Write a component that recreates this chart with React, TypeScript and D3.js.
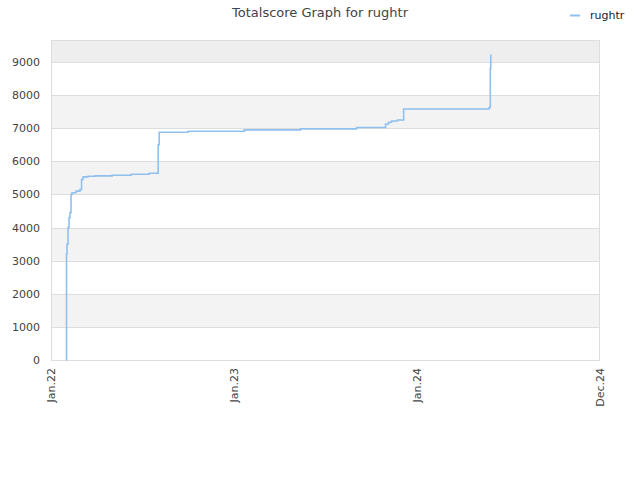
import React from "react";
import * as d3 from "d3";

const title = "Totalscore Graph for rughtr";
const seriesName = "rughtr";
const dates: string[] = [
  "2022-01-31", "2022-02-01", "2022-02-02", "2022-02-04", "2022-02-06", "2022-02-08",
  "2022-02-10", "2022-02-12", "2022-02-20", "2022-02-28", "2022-03-03", "2022-03-06",
  "2022-03-16", "2022-03-30", "2022-05-03", "2022-06-10", "2022-07-16", "2022-08-03",
  "2022-08-05", "2022-10-02", "2023-01-22", "2023-05-14", "2023-09-03", "2023-10-31",
  "2023-11-06", "2023-11-12", "2023-11-24", "2023-12-06", "2024-05-24", "2024-05-26",
  "2024-05-27", "2024-05-28",
];
const values: number[] = [
  0, 3200, 3500, 4000, 4300, 4450,
  5000, 5050, 5100, 5150, 5450, 5530,
  5550, 5560, 5580, 5610, 5640, 6500,
  6880, 6910, 6950, 6980, 7020, 7130,
  7180, 7220, 7250, 7580, 7610, 7650,
  8800, 9230,
];
const yTicks: number[] = [0, 1000, 2000, 3000, 4000, 5000, 6000, 7000, 8000, 9000];
const xTickDates: string[] = ["2022-01-01", "2023-01-01", "2024-01-01", "2025-01-01"];
const xTickLabels: string[] = ["Jan.22", "Jan.23", "Jan.24", "Dec.24"];

export default function App() {
  const W = 640, H = 480;
  const left = 51, right = 600, top = 40, bottom = 360;
  const parse = d3.timeParse("%Y-%m-%d");
  const x = d3.scaleTime()
    .domain([parse(xTickDates[0])!, parse(xTickDates[3])!])
    .range([left, right]);
  const y = d3.scaleLinear().domain([0, 9665]).range([bottom, top]);
  const pts = dates.map((d, i) => [parse(d)!, values[i]] as [Date, number]);
  const line = d3.line<[Date, number]>()
    .x((d) => x(d[0]))
    .y((d) => y(d[1]))
    .curve(d3.curveStepAfter);

  const bands: { y0: number; y1: number; fill: string }[] = [];
  const edges = [...yTicks, 9665];
  for (let i = 0; i < edges.length - 1; i++) {
    const fill = i === edges.length - 2 ? "#eeeeee" : i % 2 === 1 ? "#f3f3f3" : "#ffffff";
    bands.push({ y0: edges[i], y1: edges[i + 1], fill });
  }
  const font = "DejaVu Sans, sans-serif";

  return (
    <svg width={W} height={H} style={{ position: "absolute", left: 0, top: 0, background: "#fff" }}>
      <text x={320} y={17} textAnchor="middle" fontFamily={font} fontSize={13} fill="#444">{title}</text>
      <line x1={570} x2={580} y1={15.5} y2={15.5} stroke="#90c0f0" strokeWidth={2} />
      <text x={590} y={19} fontFamily={font} fontSize={11} fill="#222">{seriesName}</text>
      {bands.map((b, i) => (
        <rect key={i} x={left} width={right - left} y={y(b.y1)} height={y(b.y0) - y(b.y1)} fill={b.fill} />
      ))}
      {yTicks.map((t) => (
        <g key={t}>
          <line x1={left} x2={right} y1={Math.round(y(t)) + 0.5} y2={Math.round(y(t)) + 0.5} stroke="#dddddd" />
          <text x={40} y={y(t) + 4} textAnchor="end" fontFamily={font} fontSize={11} fill="#444">{t}</text>
        </g>
      ))}
      <rect x={left + 0.5} y={top + 0.5} width={right - left - 1} height={bottom - top} fill="none" stroke="#dddddd" />
      {xTickDates.map((d, i) => {
        const px = x(parse(d)!);
        return (
          <text key={d} transform={`translate(${px + 4},${bottom + 8}) rotate(-90)`} textAnchor="end"
            fontFamily={font} fontSize={11} fill="#444">{xTickLabels[i]}</text>
        );
      })}
      <path d={line(pts) ?? ""} fill="none" stroke="#90c0f0" strokeWidth={1.6} />
    </svg>
  );
}
